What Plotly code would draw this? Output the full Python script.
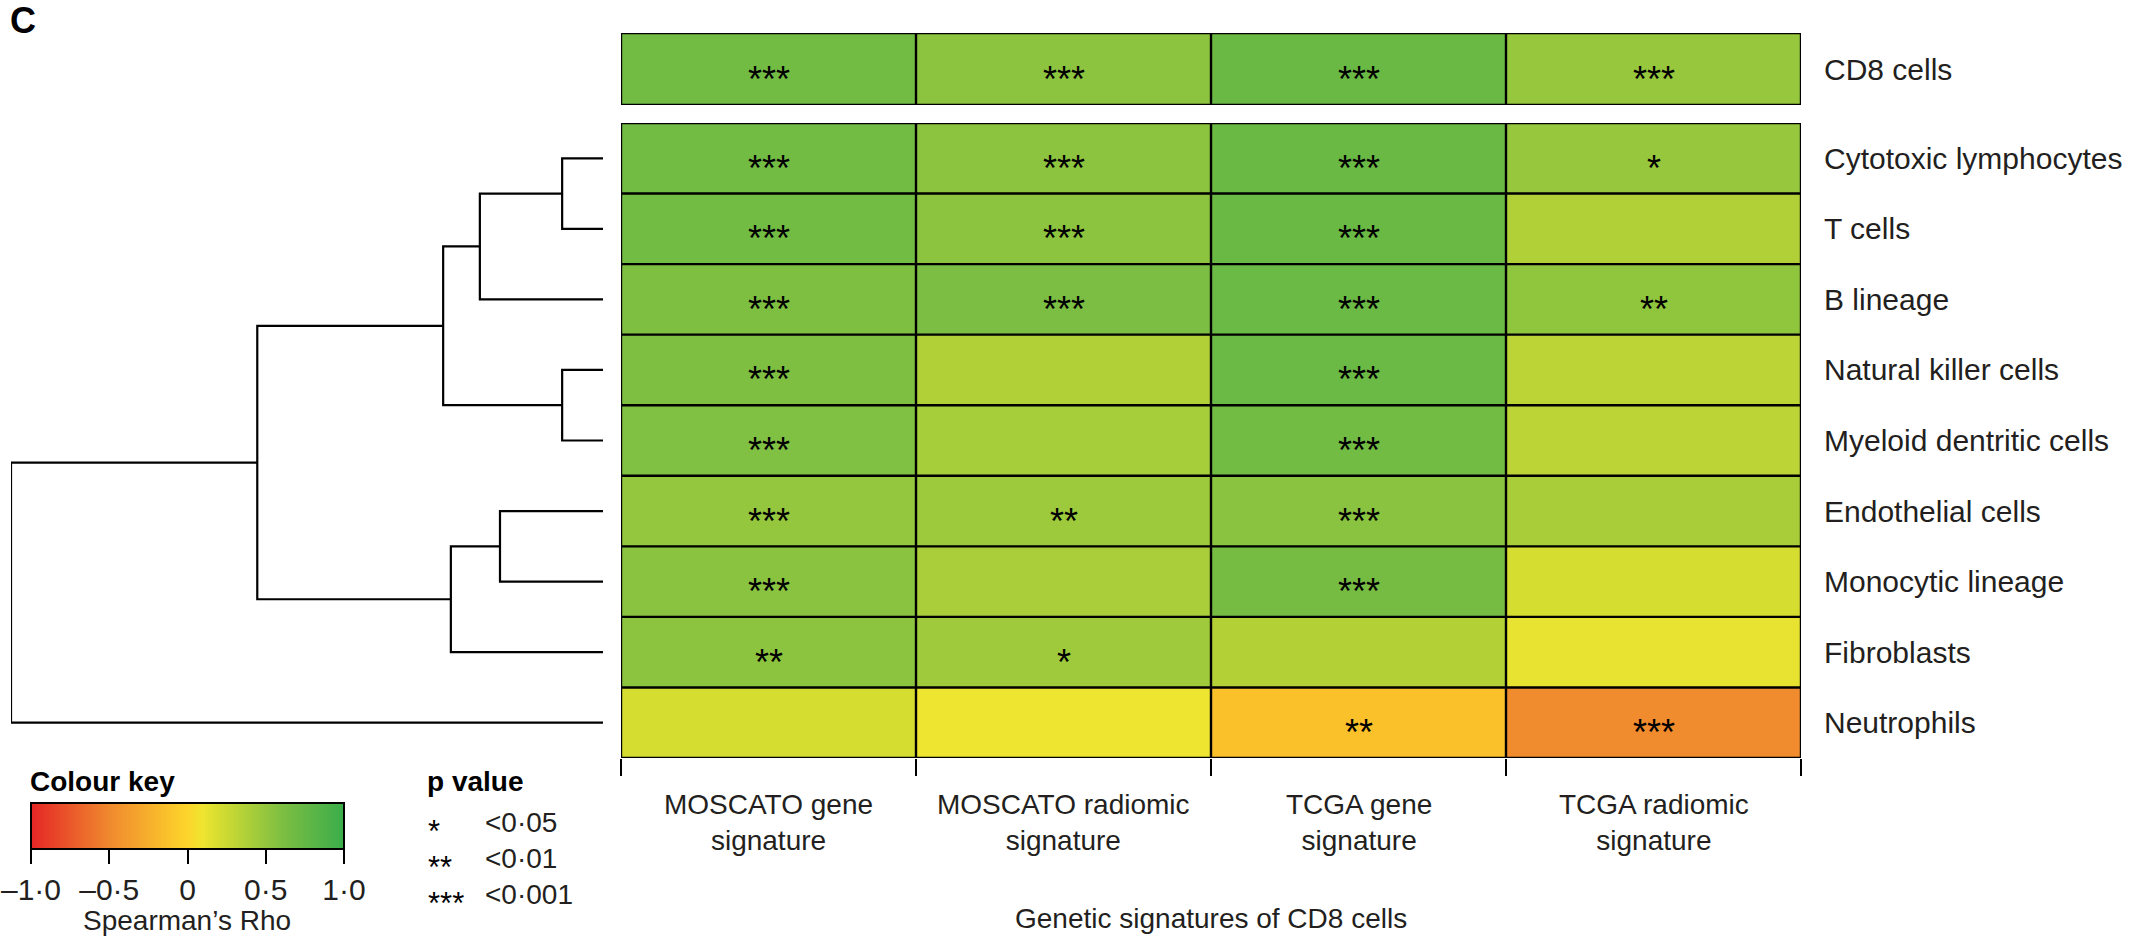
import plotly.graph_objects as go

# ---- data -------------------------------------------------------------
signatures = ["MOSCATO gene<br>signature", "MOSCATO radiomic<br>signature",
              "TCGA gene<br>signature", "TCGA radiomic<br>signature"]
cell_types = ["Cytotoxic lymphocytes", "T cells", "B lineage", "Natural killer cells",
              "Myeloid dentritic cells", "Endothelial cells", "Monocytic lineage",
              "Fibroblasts", "Neutrophils"]

# Spearman's rho between each CD8 signature and the CD8 cell abundance
cd8_rho = [0.67, 0.53, 0.72, 0.49]
cd8_sig = ["***", "***", "***", "***"]

# Spearman's rho per signature (columns), rows follow cell_types
rho_moscato_gene = [0.67, 0.67, 0.60, 0.60, 0.59, 0.50, 0.55, 0.53, 0.20]
rho_moscato_radiomic = [0.53, 0.53, 0.62, 0.37, 0.42, 0.46, 0.40, 0.45, 0.10]
rho_tcga_gene = [0.72, 0.72, 0.71, 0.71, 0.67, 0.55, 0.65, 0.36, -0.13]
rho_tcga_radiomic = [0.49, 0.37, 0.52, 0.32, 0.32, 0.41, 0.20, 0.13, -0.49]

sig_moscato_gene = ["***", "***", "***", "***", "***", "***", "***", "**", ""]
sig_moscato_radiomic = ["***", "***", "***", "", "", "**", "", "*", ""]
sig_tcga_gene = ["***", "***", "***", "***", "***", "***", "***", "", "**"]
sig_tcga_radiomic = ["*", "", "**", "", "", "", "", "", "***"]

# hierarchical clustering of the cell types: (child a, child b, height)
# leaves are 0..8 (cell_types order), merged clusters get ids 9, 10, ...
linkage = [
    (0, 1, 0.069),
    (3, 4, 0.069),
    (5, 6, 0.174),
    (9, 2, 0.208),
    (11, 7, 0.257),
    (12, 10, 0.270),
    (14, 13, 0.584),
    (15, 8, 1.000),
]

cbar_ticks = [-1.0, -0.5, 0.0, 0.5, 1.0]
cbar_ticktext = ["–1·0", "–0·5", "0", "0·5", "1·0"]
pvalue_keys = ["*", "**", "***"]
pvalue_text = ["<0·05", "<0·01", "<0·001"]

# ---- styling ------------------------------------------------------------
W, H = 2136, 939
FONT = "Liberation Sans, Arial, sans-serif"
INK = "#231f20"

colorscale = [
    [0.00, "#e42626"],
    [0.25, "#f0892e"],
    [0.50, "#fdd52a"],
    [0.55, "#eee530"],
    [0.60, "#d6dd31"],
    [0.70, "#aace39"],
    [0.80, "#7ebf42"],
    [0.90, "#5cb547"],
    [1.00, "#3aae4a"],
]


def px_x(p):
    return p / W


def px_y(p):
    return 1 - p / H


heat_left, heat_right = 621, 1801
main_top, main_bottom = 123, 758
top_top, top_bottom = 33, 105
dendro_left, dendro_right = 11, 603

columns_rho = [rho_moscato_gene, rho_moscato_radiomic, rho_tcga_gene, rho_tcga_radiomic]
columns_sig = [sig_moscato_gene, sig_moscato_radiomic, sig_tcga_gene, sig_tcga_radiomic]
n_rows, n_cols = len(cell_types), len(signatures)
z_main = [[columns_rho[c][r] for c in range(n_cols)] for r in range(n_rows)]

fig = go.Figure()

fig.add_trace(go.Heatmap(z=[cd8_rho], x=list(range(n_cols)), y=[0],
                         coloraxis="coloraxis", xaxis="x", yaxis="y",
                         hoverinfo="skip"))
fig.add_trace(go.Heatmap(z=z_main, x=list(range(n_cols)), y=list(range(n_rows)),
                         coloraxis="coloraxis", xaxis="x", yaxis="y2",
                         hoverinfo="skip"))

# dendrogram built from the linkage table
pos = {i: float(i) for i in range(n_rows)}
hgt = {i: 0.0 for i in range(n_rows)}
dx, dy = [], []
for k, (a, b, h) in enumerate(linkage):
    node = n_rows + k
    dx += [hgt[a], h, h, hgt[b], None]
    dy += [pos[a], pos[a], pos[b], pos[b], None]
    pos[node] = (pos[a] + pos[b]) / 2
    hgt[node] = h
fig.add_trace(go.Scatter(x=dx, y=dy, mode="lines", xaxis="x3", yaxis="y2",
                         line=dict(color="black", width=2.2), hoverinfo="skip",
                         showlegend=False))

# cell borders
shapes = []
line = dict(color="black", width=2.4)
for yref, nr in (("y", 1), ("y2", n_rows)):
    for r in range(nr + 1):
        shapes.append(dict(type="line", xref="x", yref=yref, x0=-0.5, x1=n_cols - 0.5,
                           y0=r - 0.5, y1=r - 0.5, line=line, layer="above"))
    for c in range(n_cols + 1):
        shapes.append(dict(type="line", xref="x", yref=yref, x0=c - 0.5, x1=c - 0.5,
                           y0=-0.5, y1=nr - 0.5, line=line, layer="above"))


def note(x, y, text, size=28, color=INK, xanchor="center", xref="paper", yref="paper",
         yshift=0, family=FONT):
    return dict(x=x, y=y, xref=xref, yref=yref, text=text, showarrow=False,
                xanchor=xanchor, yanchor="middle", yshift=yshift,
                font=dict(family=family, size=size, color=color))


annotations = []
STAR_SIZE = 36
STAR_SHIFT = -10
for c in range(n_cols):
    if cd8_sig[c]:
        annotations.append(note(c, 0, cd8_sig[c], size=STAR_SIZE, color="black",
                                xref="x", yref="y", yshift=STAR_SHIFT))
    for r in range(n_rows):
        if columns_sig[c][r]:
            annotations.append(note(c, r, columns_sig[c][r], size=STAR_SIZE, color="black",
                                    xref="x", yref="y2", yshift=STAR_SHIFT))
    annotations.append(note(c, px_y(822), signatures[c], size=28, xref="x"))

annotations += [
    note(px_x((heat_left + heat_right) / 2), px_y(918), "Genetic signatures of CD8 cells"),
    note(px_x(8), px_y(20), "<b>C</b>", size=36, color="black", xanchor="left"),
    note(px_x(28), px_y(781), "<b>Colour key</b>", size=28, color="black", xanchor="left"),
    note(px_x(187), px_y(920), "Spearman’s Rho", size=28),
    note(px_x(425), px_y(781), "<b>p value</b>", size=28, color="black", xanchor="left"),
]
for i, (k, t) in enumerate(zip(pvalue_keys, pvalue_text)):
    yy = px_y(822 + 36 * i)
    annotations.append(note(px_x(426), yy, k, size=31, color="black",
                            xanchor="left", yshift=-9))
    annotations.append(note(px_x(483), yy, t, size=28, xanchor="left"))

fig.update_layout(
    width=W, height=H,
    margin=dict(l=0, r=0, t=0, b=0),
    paper_bgcolor="white", plot_bgcolor="white",
    font=dict(family=FONT, color=INK),
    showlegend=False,
    coloraxis=dict(
        cmin=-1, cmax=1, colorscale=colorscale,
        colorbar=dict(
            orientation="h", x=px_x(31), xanchor="left", y=px_y(803), yanchor="top",
            xpad=0, ypad=0, len=313, lenmode="pixels", thickness=46,
            thicknessmode="pixels", outlinewidth=2, outlinecolor="black",
            ticks="outside", ticklen=14, tickwidth=2, tickcolor="black",
            tickvals=cbar_ticks, ticktext=cbar_ticktext, ticklabeloverflow="allow",
            tickfont=dict(family=FONT, size=30, color=INK),
        ),
    ),
    xaxis=dict(domain=[px_x(heat_left), px_x(heat_right)], range=[-0.5, n_cols - 0.5],
               anchor="y2", tickvals=[c - 0.5 for c in range(n_cols + 1)],
               ticks="outside", ticklen=17, tickwidth=2, tickcolor="black",
               showticklabels=False, showgrid=False, zeroline=False, showline=False),
    yaxis=dict(domain=[px_y(top_bottom), px_y(top_top)], range=[0.5, -0.5],
               anchor="x", side="right", tickvals=[0], ticktext=["CD8 cells"],
               ticks="", showgrid=False, zeroline=False, ticklabelstandoff=22,
               tickfont=dict(family=FONT, size=30, color=INK)),
    yaxis2=dict(domain=[px_y(main_bottom), px_y(main_top)], range=[n_rows - 0.5, -0.5],
                anchor="x", side="right", tickvals=list(range(n_rows)), ticktext=cell_types,
                ticks="", showgrid=False, zeroline=False, ticklabelstandoff=22,
                tickfont=dict(family=FONT, size=30, color=INK)),
    xaxis3=dict(domain=[px_x(dendro_left), px_x(dendro_right)], range=[1.0, 0.0],
                anchor="y2", visible=False, showgrid=False, zeroline=False),
    shapes=shapes,
    annotations=annotations,
)

fig.write_html("out.html")
